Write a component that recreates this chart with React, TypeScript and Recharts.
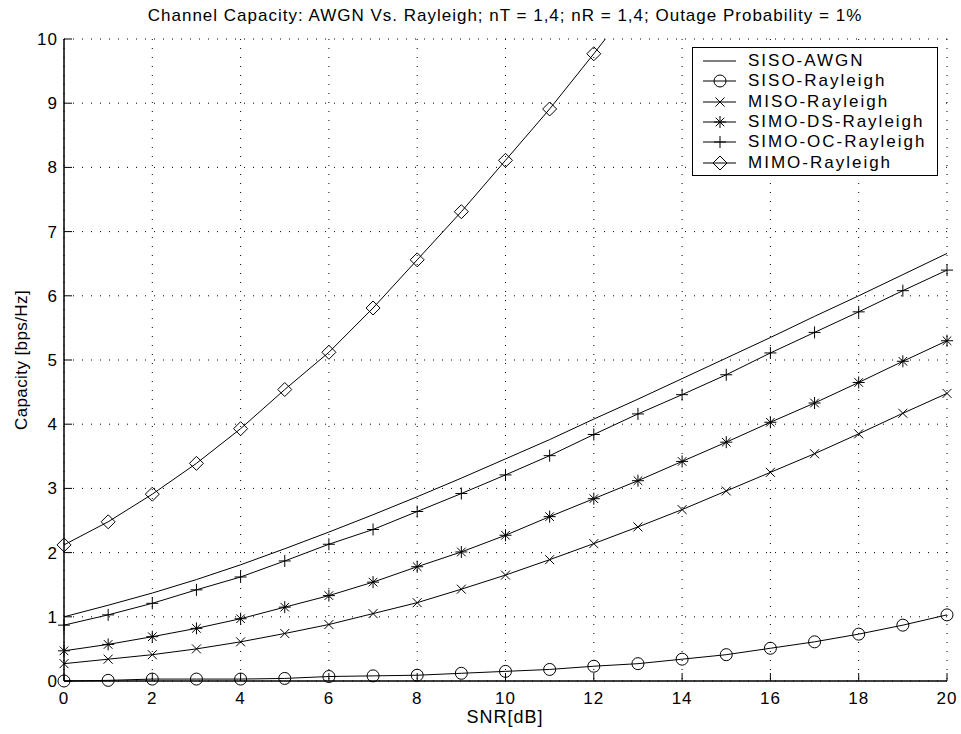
import { LineChart, Line, XAxis, YAxis, CartesianGrid, Legend } from "recharts"

// SNR in dB
const snr = [0, 1, 2, 3, 4, 5, 6, 7, 8, 9, 10, 11, 12, 13, 14, 15, 16, 17, 18, 19, 20]

const sisoAwgn = [1.0, 1.18, 1.37, 1.58, 1.81, 2.06, 2.32, 2.59, 2.87, 3.16, 3.46, 3.76, 4.08, 4.39, 4.71, 5.03, 5.35, 5.68, 6.0, 6.33, 6.66]
const sisoRayleigh = [0.0, 0.01, 0.03, 0.03, 0.03, 0.04, 0.07, 0.08, 0.09, 0.12, 0.15, 0.18, 0.23, 0.27, 0.34, 0.41, 0.51, 0.61, 0.73, 0.87, 1.03]
const misoRayleigh = [0.27, 0.34, 0.41, 0.5, 0.61, 0.74, 0.88, 1.05, 1.22, 1.43, 1.65, 1.89, 2.14, 2.4, 2.67, 2.96, 3.25, 3.54, 3.85, 4.17, 4.48]
const simoDs = [0.47, 0.57, 0.69, 0.82, 0.97, 1.15, 1.33, 1.54, 1.78, 2.01, 2.27, 2.56, 2.84, 3.12, 3.42, 3.72, 4.03, 4.33, 4.65, 4.98, 5.3]
const simoOc = [0.87, 1.03, 1.21, 1.42, 1.62, 1.87, 2.13, 2.36, 2.64, 2.92, 3.21, 3.51, 3.84, 4.16, 4.46, 4.77, 5.11, 5.43, 5.75, 6.08, 6.4]
// goes off the top of the axes after 12 dB
const mimoRayleigh = [2.12, 2.48, 2.91, 3.39, 3.93, 4.54, 5.12, 5.81, 6.56, 7.31, 8.11, 8.91, 9.77, 10.65]

const xTicks = [0, 2, 4, 6, 8, 10, 12, 14, 16, 18, 20]
const yTicks = [0, 1, 2, 3, 4, 5, 6, 7, 8, 9, 10]

const seriesNames = ["SISO-AWGN", "SISO-Rayleigh", "MISO-Rayleigh", "SIMO-DS-Rayleigh", "SIMO-OC-Rayleigh", "MIMO-Rayleigh"]
const seriesKeys = ["awgn", "siso", "miso", "simoDs", "simoOc"]
const seriesMarkers = ["none", "circle", "x", "star", "plus", "diamond"]

const data = snr.map((s, i) => ({
    snr: s,
    awgn: sisoAwgn[i],
    siso: sisoRayleigh[i],
    miso: misoRayleigh[i],
    simoDs: simoDs[i],
    simoOc: simoOc[i],
    mimo: i < mimoRayleigh.length ? mimoRayleigh[i] : null,
    // markers only where they sit inside the axes
    mimoMark: i < mimoRayleigh.length && mimoRayleigh[i] <= 10 ? mimoRayleigh[i] : null,
}))

const FONT = "'Liberation Sans', Arial, Helvetica, sans-serif"

function Marker({ kind, cx, cy }: { kind: string; cx: number; cy: number }) {
    const st = { fill: "none", stroke: "#000", strokeWidth: 1 }
    if (kind === "circle") return <circle cx={cx} cy={cy} r={6} {...st} />
    if (kind === "x")
        return <path d={`M${cx - 4.5},${cy - 4.5}L${cx + 4.5},${cy + 4.5}M${cx - 4.5},${cy + 4.5}L${cx + 4.5},${cy - 4.5}`} {...st} />
    if (kind === "plus")
        return <path d={`M${cx - 6},${cy}L${cx + 6},${cy}M${cx},${cy - 6}L${cx},${cy + 6}`} {...st} />
    if (kind === "star")
        return (
            <path
                d={`M${cx - 6},${cy}L${cx + 6},${cy}M${cx},${cy - 6}L${cx},${cy + 6}M${cx - 4.3},${cy - 4.3}L${cx + 4.3},${cy + 4.3}M${cx - 4.3},${cy + 4.3}L${cx + 4.3},${cy - 4.3}`}
                {...st}
            />
        )
    if (kind === "diamond")
        return <path d={`M${cx},${cy - 7}L${cx + 7},${cy}L${cx},${cy + 7}L${cx - 7},${cy}Z`} {...st} />
    return null
}

function dotFor(kind: string) {
    return (p: any) => {
        if (p.cy == null || p.cx == null || Number.isNaN(p.cy) || p.value == null) return <g key={`d-${kind}-${p.index}`} />
        return (
            <g key={`d-${kind}-${p.index}`}>
                <Marker kind={kind} cx={p.cx} cy={p.cy} />
            </g>
        )
    }
}

function LegendBox() {
    return (
        <div
            style={{
                position: "relative",
                width: 246,
                height: 129,
                boxSizing: "border-box",
                border: "1px solid #000",
                background: "#fff",
                fontFamily: FONT,
                fontSize: 17,
                letterSpacing: 2,
                color: "#000",
            }}
        >
            {seriesNames.map((name, i) => (
                <div key={name} style={{ position: "absolute", left: 0, top: 13 + i * 20.3 - 10, height: 20, display: "flex", alignItems: "center" }}>
                    <svg width={55} height={20} style={{ display: "block" }}>
                        <line x1={10} x2={43} y1={10} y2={10} stroke="#000" strokeWidth={1} />
                        <Marker kind={seriesMarkers[i]} cx={27} cy={10} />
                    </svg>
                    <span style={{ lineHeight: "20px", whiteSpace: "nowrap" }}>{name}</span>
                </div>
            ))}
        </div>
    )
}

const tickStyle = { fontSize: 17, fill: "#000", fontFamily: FONT, letterSpacing: 1 }

export default function App() {
    return (
        <div style={{ position: "absolute", left: 0, top: 0, width: 961, height: 734, background: "#fff" }}>
            <LineChart width={961} height={734} data={data} margin={{ top: 39, right: 14, bottom: 23, left: 24 }}>
                <CartesianGrid stroke="#000" strokeDasharray="1 8" strokeWidth={1} />
                <XAxis
                    dataKey="snr"
                    type="number"
                    domain={[0, 20]}
                    ticks={xTicks}
                    height={30}
                    tickSize={-8}
                    tickMargin={19}
                    tick={tickStyle}
                    tickLine={{ stroke: "#000" }}
                    axisLine={{ stroke: "#000", strokeWidth: 1.5 }}
                />
                <XAxis
                    xAxisId="top"
                    orientation="top"
                    dataKey="snr"
                    type="number"
                    domain={[0, 20]}
                    ticks={xTicks}
                    height={0}
                    tickSize={-8}
                    tickFormatter={() => ""}
                    tickLine={{ stroke: "#000" }}
                    axisLine={{ stroke: "#000", strokeWidth: 1.5 }}
                    allowDataOverflow
                />
                <YAxis
                    type="number"
                    domain={[0, 10]}
                    ticks={yTicks}
                    width={40}
                    tickSize={-8}
                    tickMargin={14}
                    tick={tickStyle}
                    tickLine={{ stroke: "#000" }}
                    axisLine={{ stroke: "#000", strokeWidth: 1.5 }}
                />
                <YAxis
                    yAxisId="right"
                    orientation="right"
                    type="number"
                    domain={[0, 10]}
                    ticks={yTicks}
                    width={0}
                    tickSize={-8}
                    tickFormatter={() => ""}
                    tickLine={{ stroke: "#000" }}
                    axisLine={{ stroke: "#000", strokeWidth: 1.5 }}
                    allowDataOverflow
                />
                {/* clipped axis only for the MIMO curve that leaves the box */}
                <YAxis yAxisId="clip" type="number" domain={[0, 10]} allowDataOverflow hide />
                {seriesKeys.map((k, i) => (
                    <Line
                        key={k}
                        dataKey={k}
                        name={seriesNames[i]}
                        type="linear"
                        stroke="#000"
                        strokeWidth={1}
                        dot={seriesMarkers[i] === "none" ? false : dotFor(seriesMarkers[i])}
                        activeDot={false}
                        isAnimationActive={false}
                    />
                ))}
                <Line
                    yAxisId="clip"
                    dataKey="mimo"
                    name="MIMO-Rayleigh"
                    type="linear"
                    stroke="#000"
                    strokeWidth={1}
                    dot={false}
                    activeDot={false}
                    isAnimationActive={false}
                />
                <Line
                    dataKey="mimoMark"
                    type="linear"
                    stroke="none"
                    dot={dotFor("diamond")}
                    activeDot={false}
                    legendType="none"
                    isAnimationActive={false}
                />
                <Legend
                    layout="vertical"
                    align="center"
                    verticalAlign="middle"
                    wrapperStyle={{ position: "absolute", left: 692, top: 47, width: 246, height: 129 }}
                    content={() => <LegendBox />}
                />
            </LineChart>
            <svg width={961} height={734} style={{ position: "absolute", left: 0, top: 0, pointerEvents: "none" }}>
                <text x={505} y={21} textAnchor="middle" fontFamily={FONT} fontSize={17} letterSpacing={1} fill="#000">
                    Channel Capacity: AWGN Vs. Rayleigh; nT = 1,4; nR = 1,4; Outage Probability = 1%
                </text>
                <text x={505} y={723} textAnchor="middle" fontFamily={FONT} fontSize={18} letterSpacing={1} fill="#000">
                    SNR[dB]
                </text>
                <text
                    transform="translate(27,360) rotate(-90)"
                    textAnchor="middle"
                    fontFamily={FONT}
                    fontSize={17}
                    letterSpacing={0.4}
                    fill="#000"
                >
                    Capacity [bps/Hz]
                </text>
            </svg>
        </div>
    )
}
